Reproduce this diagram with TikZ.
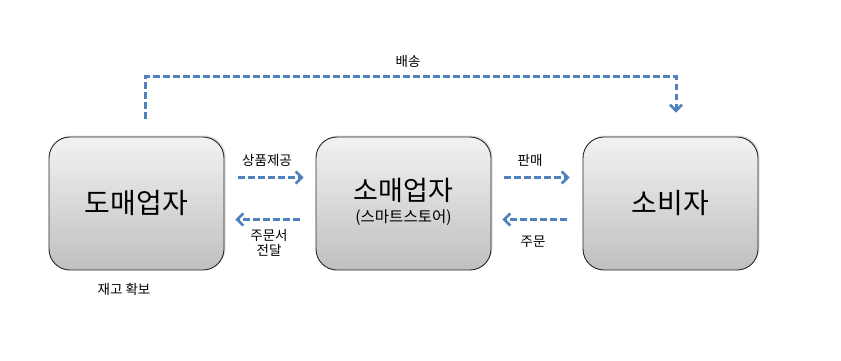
\documentclass[tikz,border=0pt]{standalone}
\usepackage{fontspec}
\setmainfont{Noto Sans CJK KR}
\usetikzlibrary{arrows.meta,shadows,calc}
\definecolor{arrowblue}{HTML}{4F81BD}
\tikzset{
  box/.style={draw=black!85, line width=0.9pt, rounded corners=21pt, minimum width=175pt, minimum height=133pt,
    top color=black!5, bottom color=black!25, drop shadow={shadow xshift=1.5pt, shadow yshift=1.5pt, opacity=0.25}},
  flow/.style={draw=arrowblue, line width=3pt, dash pattern=on 6.5pt off 3.5pt, -{Straight Barb[length=6pt,width=12pt,line width=2.6pt]}},
  lbl/.style={font=\fontsize{13.5}{15.5}\selectfont, align=center, inner sep=0pt},
}
\begin{document}
\begin{tikzpicture}[x=1pt,y=-1pt]
\useasboundingbox (0,0) rectangle (841,360);
\node[box] (w) at (136.5,203.5) {};
\node[box] (r) at (403.5,203.5) {};
\node[box] (c) at (670.5,203.5) {};
\node[font=\fontsize{28}{30}\selectfont] (wt) at (w.center) {도매업자};
\node[font=\fontsize{27}{30}\selectfont] (rt) at (403.5,190) {소매업자};
\node[font=\fontsize{15.5}{18}\selectfont] (rs) at (403.5,218) {(스마트스토어)};
\node[font=\fontsize{28}{30}\selectfont] (ct) at (c.center) {소비자};
% top delivery path
\coordinate (d1) at ($(w.north)+(8.5,-18)$);
\coordinate (d2) at ($(c.north)+(5.5,-24)$);
\draw[flow] (d1) |- ($(d1)+(0,-42)$) -| (d2);
\node[lbl] (ship) at (408,61) {배송};
% wholesaler - retailer
\draw[flow] ($(w.east)+(14,-26)$) -- ($(r.west)+(-12,-26)$);
\draw[flow] ($(r.west)+(-16,16)$) -- ($(w.east)+(11,16)$);
\node[lbl] (l1) at (267,160) {상품제공};
\node[lbl] (l2) at (269,243) {주문서\\[-1pt]전달};
% retailer - consumer
\draw[flow] ($(r.east)+(13,-26)$) -- ($(c.west)+(-13,-26)$);
\draw[flow] ($(c.west)+(-16,16)$) -- ($(r.east)+(11,16)$);
\node[lbl] (l3) at (530,160) {판매};
\node[lbl] (l4) at (533,242) {주문};
\node[lbl] (l5) at (124,289) {재고 확보};
\end{tikzpicture}
\end{document}
